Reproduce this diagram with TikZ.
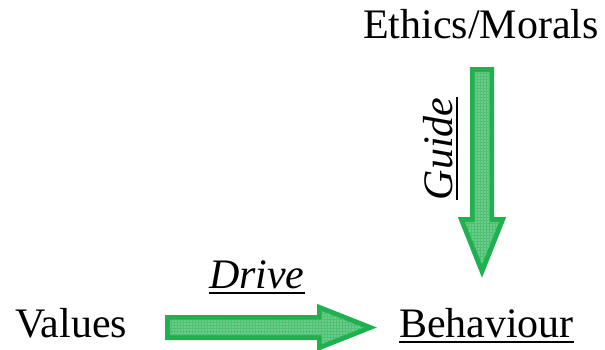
\documentclass[tikz,border=0pt]{standalone}
\usepackage{fontspec}
\setmainfont{Liberation Serif}
\usetikzlibrary{calc,patterns}
\definecolor{arrowline}{RGB}{32,176,80}
\definecolor{arrowfill}{RGB}{112,204,138}
\tikzset{
  lbl/.style={inner sep=0pt, outer sep=0pt, font=\fontsize{42}{50}\selectfont},
  blockarrow/.style={draw=arrowline, line width=5pt, fill=arrowfill, line join=miter},
  hatch/.style={pattern=grid, pattern color=arrowline!80},
  uline/.style={line width=2pt, black},
}
\begin{document}
\begin{tikzpicture}[x=1pt,y=-1pt]
\useasboundingbox (0,0) rectangle (605,349);
% labels
\node[lbl, anchor=base west] (values) at (15,337) {Values};
\node[lbl, anchor=base west] (behaviour) at (399,337) {Behaviour};
\node[lbl, anchor=base west] (ethics) at (363,38) {Ethics/Morals};
\node[lbl, anchor=base west] (drive) at (209,288) {\itshape Drive};
\node[lbl, anchor=base west, rotate=90] (guide) at (452,200) {\itshape Guide};
% arrow end coordinates
\coordinate (hs) at (167.5,327.5);
\coordinate (hb) at (319.5,327.5);
\coordinate (he) at (370,327.5);
\coordinate (vs) at (482,69.5);
\coordinate (vb) at (482,219.5);
\coordinate (ve) at (482,271);
% horizontal block arrow (Values -> Behaviour)
\path[blockarrow] ($(hs)+(0,-10)$) -- ($(hb)+(0,-10)$) -- ($(hb)+(0,-20)$) -- (he)
  -- ($(hb)+(0,20)$) -- ($(hb)+(0,10)$) -- ($(hs)+(0,10)$) -- cycle;
\path[hatch] ($(hs)+(2,-8)$) -- ($(hb)+(2,-8)$) -- ($(hb)+(2,-17)$) -- ($(he)+(-6,0)$)
  -- ($(hb)+(2,17)$) -- ($(hb)+(2,8)$) -- ($(hs)+(2,8)$) -- cycle;
% vertical block arrow (Ethics/Morals -> Behaviour)
\path[blockarrow] ($(vs)+(-9.5,0)$) -- ($(vb)+(-9.5,0)$) -- ($(vb)+(-20.5,0)$) -- (ve)
  -- ($(vb)+(20.5,0)$) -- ($(vb)+(9.5,0)$) -- ($(vs)+(9.5,0)$) -- cycle;
\path[hatch] ($(vs)+(-7.5,2)$) -- ($(vb)+(-7.5,2)$) -- ($(vb)+(-17.5,2)$) -- ($(ve)+(0,-6)$)
  -- ($(vb)+(17.5,2)$) -- ($(vb)+(7.5,2)$) -- ($(vs)+(7.5,2)$) -- cycle;
% underlines
\draw[uline] ([yshift=-5pt]behaviour.base west) -- ([yshift=-5pt]behaviour.base east);
\draw[uline] ([yshift=-5pt]drive.base west) -- ([yshift=-5pt]drive.base east);
\draw[uline] ([xshift=5pt]guide.base west) -- ([xshift=5pt]guide.base east);
\end{tikzpicture}
\end{document}
